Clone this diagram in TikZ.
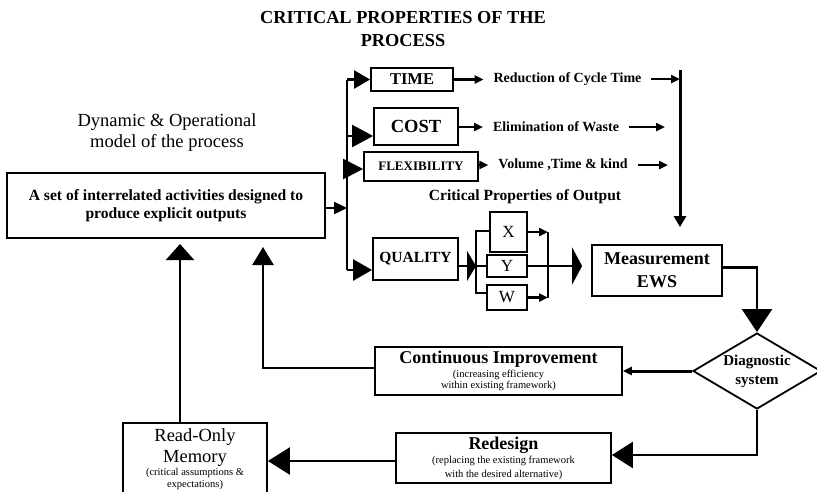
\documentclass[tikz,border=0pt]{standalone}
\usepackage{fontspec}
\setmainfont{Liberation Serif}
\usetikzlibrary{arrows.meta,positioning,shapes.geometric}
\tikzset{
  box/.style={draw,line width=1.8pt,align=center,inner sep=1pt},
  lbl/.style={font=\bfseries\fontsize{14}{16}\selectfont,inner sep=0pt,outer sep=10pt},
  conn/.style={line width=2.4pt},
  smtip/.style={-{Triangle[length=9pt,width=8pt]}},
  decision/.style={diamond,draw,line width=1.8pt,aspect=1.68,inner sep=0pt,align=center}
}

\begin{document}
\begin{tikzpicture}[x=1pt,y=-1pt]
  \useasboundingbox (0,0) rectangle (817,491);
  % headings
  \node[font=\bfseries\fontsize{18.3}{23}\selectfont,align=center] (title) at (403,29.5) {CRITICAL PROPERTIES OF THE\\PROCESS};
  \node[font=\fontsize{18.5}{21}\selectfont,align=center] (model) at (167,132.5) {Dynamic \& Operational\\model of the process};
  % process
  \node[box,minimum width=318pt,minimum height=65pt,font=\bfseries\fontsize{15.6}{18}\selectfont] (activities) at (166,205.5) {A set of interrelated activities designed to\\produce explicit outputs};
  % properties of the process
  \node[box,minimum width=82pt,minimum height=23pt,font=\bfseries\fontsize{16.5}{18}\selectfont] (time) at (412,79.5) {TIME};
  \node[box,minimum width=84pt,minimum height=37pt,font=\bfseries\fontsize{18.5}{20}\selectfont] (cost) at (416,126.5) {COST};
  \node[box,minimum width=114pt,minimum height=29pt,font=\bfseries\fontsize{13}{15}\selectfont] (flex) at (421,166.5) {FLEXIBILITY};
  \node[box,minimum width=85pt,minimum height=42pt,font=\bfseries\fontsize{15.5}{17}\selectfont] (quality) at (415.5,259) {QUALITY};
  \node[lbl] (reduce) at (567.5,79) {Reduction of Cycle Time};
  \node[lbl] (waste) at (556,127) {Elimination of Waste};
  \node[lbl] (kind) at (563,165) {Volume ,Time \& kind};
  \node[font=\bfseries\fontsize{15.5}{17}\selectfont] (output) at (525,197) {Critical Properties of Output};
  % properties of output
  \node[box,minimum width=37pt,minimum height=40pt,font=\fontsize{17}{19}\selectfont] (optX) at (508.5,232) {X};
  \node[box,line width=2.4pt,minimum width=40pt,minimum height=22pt,font=\fontsize{17}{19}\selectfont] (optY) at (507,266) {Y};
  \node[box,minimum width=40pt,minimum height=25pt,font=\fontsize{17}{19}\selectfont] (optW) at (507,297.5) {W};
  % measurement and diagnosis
  \node[box,minimum width=130pt,minimum height=51pt,font=\bfseries\fontsize{18}{23}\selectfont] (measure) at (657,270.5) {Measurement\\EWS};
  \node[decision,minimum width=128pt,minimum height=76pt,font=\bfseries\fontsize{15}{19}\selectfont] (diag) at (757,371) {Diagnostic\\system};
  \node[box,minimum width=247pt,minimum height=48pt,font=\fontsize{10.5}{11.5}\selectfont] (improve) at (498.5,371) {{\bfseries\fontsize{18}{20}\selectfont Continuous Improvement}\\[2pt](increasing efficiency\\within existing framework)};
  \node[box,minimum width=215pt,minimum height=50pt,font=\fontsize{10.5}{14}\selectfont] (redesign) at (503.5,458) {{\bfseries\fontsize{18}{20}\selectfont Redesign}\\(replacing the existing framework\\with the desired alternative)};
  \node[box,anchor=north,minimum width=144pt,inner ysep=0pt,font=\fontsize{10.5}{12}\selectfont] (rom) at (195,422) {{\fontsize{18.5}{20}\selectfont\rule{0pt}{18.5pt}Read-Only}\\[4pt]{\fontsize{18.5}{20}\selectfont Memory}\\[1pt](critical assumptions \&\\expectations)\\\rule{0pt}{12pt}};

  % bus to the properties
  \coordinate (busT) at (347,79.5);
  \coordinate (busC) at (347,136);
  \coordinate (busF) at (347,169);
  \coordinate (busQ) at (347,270);
  \draw[conn] (busT) -- (busQ);
  \draw[conn,-{Triangle[length=13pt,width=12pt]}] ([yshift=-2.5pt]activities.east) -- ([yshift=-2.5pt]activities.east -| busT);
  \draw[conn,-{Triangle[length=16pt,width=18pt]}] (busT) -- (time.west);
  \draw[conn,-{Triangle[length=21pt,width=22pt]}] (busC) -- (busC -| cost.west);
  \draw[conn,-{Triangle[length=20pt,width=20pt]}] (busF) -- (busF -| flex.west);
  \draw[conn,-{Triangle[length=19pt,width=21pt]}] (busQ) -- (busQ -| quality.west);

  % outcomes
  \coordinate (rtop) at (680,70);
  \coordinate (wasteEnd) at (665,127);
  \coordinate (kindEnd) at (668,165);
  \draw[conn,smtip] (time.east) -- (time.east -| reduce.west);
  \draw[conn,smtip] (cost.east |- waste.west) -- (waste.west);
  \draw[conn,smtip] (flex.east |- kind.west) -- (kind.west);
  \draw[conn,smtip] (reduce.east) -- (reduce.east -| rtop);
  \draw[conn,smtip] (waste.east) -- (wasteEnd);
  \draw[conn,smtip] (kind.east) -- (kindEnd);
  \draw[line width=3pt,-{Triangle[length=11pt,width=12pt]},shorten >=17pt] (rtop) -- (rtop |- measure.north);

  % quality split
  \coordinate (brT) at (476,231);
  \coordinate (brM) at (476,266);
  \coordinate (brB) at (476,293);
  \coordinate (join) at (548,266);
  \draw[conn,-{Triangle[length=9pt,width=30pt]}] (quality.east |- brM) -- (brM);
  \draw[conn] (optX.west |- brT) -- (brT) -- (brB) -- (brB -| optW.west);
  \draw[conn] (brM) -- (optY.west);
  \draw[conn,smtip] (optX.east) -- (optX.east -| join);
  \draw[conn,smtip] (optW.east) -- (optW.east -| join);
  \draw[conn] (optX.east -| join) -- (optW.east -| join);
  \draw[conn,-{Triangle[length=10pt,width=37pt]},shorten >=9pt] (optY.east) -- (optY.east -| measure.west);

  % feedback loops
  \coordinate (upA) at (180,244);
  \coordinate (upB) at (263,247);
  \draw[conn,-{Triangle[length=23pt,width=30pt]}] ([yshift=3pt]measure.east) -| (diag.north);
  \draw[line width=3pt,smtip] (diag.west) -- (diag.west -| improve.east);
  \draw[conn,-{Triangle[length=21pt,width=26pt]}] (diag.south) |- ([yshift=3pt]redesign.east);
  \draw[conn,-{Triangle[length=22pt,width=27pt]}] ([yshift=-3pt]redesign.west) -- ([yshift=-3pt]redesign.west -| rom.east);
  \draw[conn,-{Triangle[length=18pt,width=21pt]}] ([yshift=3pt]improve.west) -| (upB);
  \draw[conn,-{Triangle[length=16pt,width=28pt]}] (rom.north -| upA) -- (upA);
\end{tikzpicture}
\end{document}
